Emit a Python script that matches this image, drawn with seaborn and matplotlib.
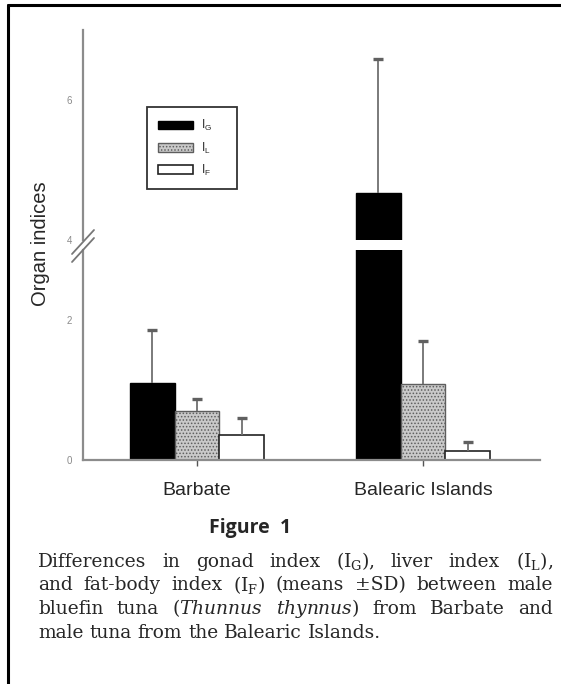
import pandas as pd
import matplotlib
matplotlib.use('Agg')
import matplotlib.pyplot as plt
import seaborn as sns
from matplotlib.lines import Line2D

# values (means and SD, organ indices)
sites = ['Barbate', 'Balearic Islands']
index_names = ['IG', 'IL', 'IF']
index_labels = [r'$\mathregular{I_G}$     ', r'$\mathregular{I_L}$     ', r'$\mathregular{I_F}$     ']
gonad_mean = [1.10, 4.67]
gonad_sd = [0.76, 1.91]
liver_mean = [0.70, 1.09]
liver_sd = [0.17, 0.61]
fat_mean = [0.36, 0.13]
fat_sd = [0.24, 0.13]
low_ticks = [0, 2]
high_ticks = [4, 6]

caption_words = [
    ['Differences', 'in', 'gonad', 'index', r'(I$_{\rm G}$),', 'liver', 'index', r'(I$_{\rm L}$),'],
    ['and', 'fat-body', 'index', r'(I$_{\rm F}$)', '(means', '±SD)', 'between', 'male'],
    ['bluefin', 'tuna', r'($\it{Thunnus}$', r'$\it{thynnus}$)', 'from', 'Barbate', 'and'],
    ['male', 'tuna', 'from', 'the', 'Balearic', 'Islands.'],
]

df = pd.DataFrame({
    'site': sites * 3,
    'index': [n for n in index_names for _ in sites],
    'mean': gonad_mean + liver_mean + fat_mean,
})
sds = [gonad_sd, liver_sd, fat_sd]

sns.set_style('white')
plt.rcParams['font.family'] = ['Liberation Sans', 'DejaVu Sans']
plt.rcParams['mathtext.fontset'] = 'dejavuserif'
plt.rcParams['hatch.linewidth'] = 0.7

W, H = 561, 684
fig = plt.figure(figsize=(W / 100, H / 100), dpi=100)

ax_x0, ax_x1 = 83, 540
ax_lo = fig.add_axes([ax_x0 / W, 1 - 460 / H, (ax_x1 - ax_x0) / W, 210 / H])
ax_hi = fig.add_axes([ax_x0 / W, 1 - 240 / H, (ax_x1 - ax_x0) / W, 210 / H])

bar_styles = [
    dict(facecolor='black', edgecolor='black', hatch=None, linewidth=1.0),
    dict(facecolor='#c9c9c9', edgecolor='#5e5e5e', hatch='.....', linewidth=1.0),
    dict(facecolor='white', edgecolor='#222222', hatch=None, linewidth=1.2),
]
axis_grey = '#8c8c8c'

for ax in (ax_lo, ax_hi):
    sns.barplot(data=df, x='site', y='mean', hue='index', order=sites,
                hue_order=index_names, width=0.594, saturation=1,
                palette=['black', '#c9c9c9', 'white'], errorbar=None,
                legend=False, ax=ax)
    for cont, style, sd in zip(ax.containers, bar_styles, sds):
        for bar, s in zip(cont, sd):
            bar.set(**style)
            x = bar.get_x() + bar.get_width() / 2
            top = bar.get_height()
            ax.vlines(x, top, top + s, color='#707070', lw=1.3, zorder=1)
            ax.plot([x], [top + s], marker='_', ms=6.5, mew=2.4,
                    color='#606060', zorder=1)
    ax.set_xlim(-0.504, 1.518)
    ax.set_xlabel('')
    ax.set_ylabel('')
    for side in ('top', 'right'):
        ax.spines[side].set_visible(False)
    ax.spines['left'].set_color(axis_grey)
    ax.spines['left'].set_linewidth(1.6)
    ax.tick_params(axis='y', length=3, width=1, color=axis_grey,
                   labelsize=7, labelcolor='#8a8a8a', pad=5)

ax_lo.set_ylim(0, 3)
ax_lo.set_yticks(low_ticks)
ax_lo.spines['bottom'].set_color(axis_grey)
ax_lo.spines['bottom'].set_linewidth(1.6)
ax_lo.tick_params(axis='x', length=4, width=1, color='#555555',
                  labelsize=14, pad=12, bottom=True)

ax_hi.set_ylim(4, 7)
ax_hi.set_yticks(high_ticks)
ax_hi.spines['bottom'].set_visible(False)
ax_hi.tick_params(axis='x', bottom=False, labelbottom=False)

# legend from the lower-axes bars
handles = [cont.patches[0] for cont in ax_lo.containers]
leg = ax_hi.legend(handles, index_labels, loc='upper left',
                   bbox_to_anchor=(0.140, 0.633), borderaxespad=0,
                   fontsize=8.5, handlelength=2.95, handleheight=0.72,
                   handletextpad=0.65, labelspacing=0.6, borderpad=0.95,
                   fancybox=False, framealpha=1, edgecolor='#333333')
leg.get_frame().set_linewidth(1.3)

# axis break marks
for dy in (-4, 4):
    cy = 246 + dy
    fig.add_artist(Line2D([(ax_x0 - 11) / W, (ax_x0 + 11) / W],
                          [1 - (cy + 12) / H, 1 - (cy - 12) / H],
                          color='#777777', lw=1.3))

fig.text(41 / W, 1 - 244 / H, 'Organ indices', rotation=90, ha='center',
         va='center', fontsize=14.5)

# page frame
fig.add_artist(Line2D([8 / W, 8 / W], [0, 1 - 5 / H], color='black', lw=2.2))
fig.add_artist(Line2D([8 / W, 1], [1 - 5 / H, 1 - 5 / H], color='black', lw=2.2))

fig.text(250 / W, 1 - 533 / H, 'Figure  1', ha='center', va='baseline',
         fontsize=14, fontweight='bold', family=['Open Sans', 'DejaVu Sans'])

# justified caption
renderer = fig.canvas.get_renderer()
cap_size = 13.4
cap_kw = dict(fontsize=cap_size, family=['DejaVu Serif'], va='baseline', ha='left')
x_left, x_right = 38, 553
for i, words in enumerate(caption_words):
    base = 567 + i * 23.5
    texts = [fig.text(0, 1 - base / H, w, **cap_kw) for w in words]
    widths = [t.get_window_extent(renderer).width for t in texts]
    if i < len(caption_words) - 1:
        gap = (x_right - x_left - sum(widths)) / (len(words) - 1)
    else:
        gap = 0.318 * cap_size * 100 / 72
    x = x_left
    for t, w in zip(texts, widths):
        t.set_x(x / W)
        x += w + gap

fig.savefig('out.png', dpi=100)
